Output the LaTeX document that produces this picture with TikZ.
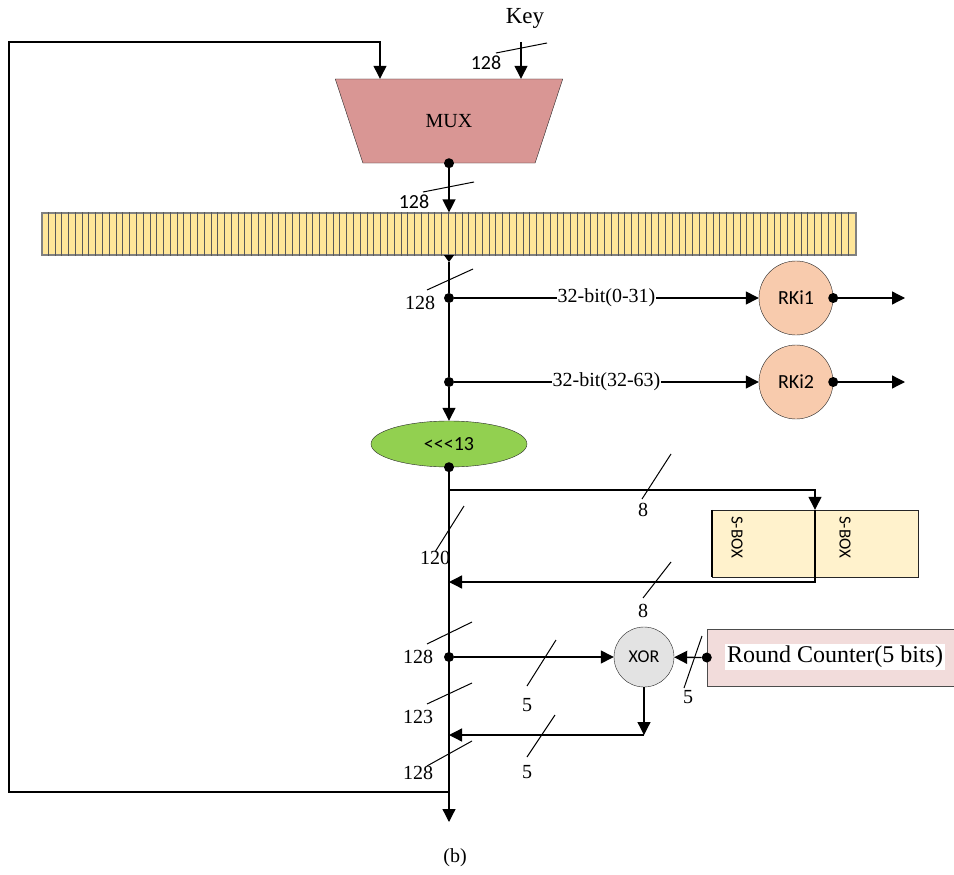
\documentclass[tikz,border=0pt]{standalone}
\usepackage{fontspec}
\setmainfont{Liberation Serif}
\setsansfont{Carlito}
\usetikzlibrary{arrows.meta,positioning,shapes.geometric,calc}
\definecolor{muxred}{HTML}{D99694}
\definecolor{reggold}{HTML}{FFE699}
\definecolor{rkpeach}{HTML}{F8CBAD}
\definecolor{rotgreen}{HTML}{92D050}
\definecolor{sboxcream}{HTML}{FFF2CC}
\definecolor{xorgray}{HTML}{E3E3E3}
\definecolor{rcpink}{HTML}{F2DCDB}
\tikzset{
  wire/.style={line width=1.3pt},
  arr/.style={wire,-{Triangle[length=13pt,width=13pt]}},
  bustick/.style={line width=1pt},
  tapdot/.style={circle,fill=black,minimum size=10pt,inner sep=0pt},
  num/.style={font=\fontsize{20}{22}\selectfont,inner sep=0pt},
  numsf/.style={font=\sffamily\fontsize{20}{22}\selectfont,inner sep=0pt},
  muxbox/.style={trapezium,trapezium stretches=true,shape border rotate=180,
    trapezium angle=66.8,minimum width=229pt,minimum height=84pt,
    fill=muxred,draw=black!85,font=\fontsize{20}{22}\selectfont},
  regbar/.style={rectangle,fill=reggold,draw=black!50,line width=1.2pt,
    minimum width=814pt,minimum height=42pt,inner sep=0pt},
  regcell/.style={black!65,line width=0.8pt},
  rkey/.style={circle,fill=rkpeach,draw=black!85,minimum size=74pt,inner sep=0pt,
    font=\sffamily\fontsize{20}{22}\selectfont},
  rotnode/.style={ellipse,fill=rotgreen,draw=black!85,minimum width=156pt,
    minimum height=46pt,inner sep=0pt,font=\sffamily\fontsize{20}{22}\selectfont},
  sboxrect/.style={rectangle,fill=sboxcream,draw=black!85,minimum width=206pt,
    minimum height=67pt},
  sboxtxt/.style={rotate=-90,font=\sffamily\fontsize{17}{19}\selectfont,inner sep=0pt},
  xorgate/.style={circle,fill=xorgray,draw=black!85,minimum size=60pt,inner sep=0pt,
    font=\sffamily\fontsize{18}{20}\selectfont},
  rcbox/.style={rectangle,fill=rcpink,draw=black!70,minimum width=247pt,minimum height=57pt},
  bitlab/.style={fill=white,inner sep=1pt,font=\fontsize{20}{22}\selectfont},
}

\begin{document}
\begin{tikzpicture}[x=1pt,y=-1pt]
  \useasboundingbox (0,0) rectangle (954,875);
  % blocks
  \node[font=\fontsize{23}{25}\selectfont] (key) at (525,18) {Key};
  \node[muxbox] (mux) at (449,121) {MUX};
  \node[regbar] (reg) at (449,234) {};
  \foreach \i in {1,...,119}
    \draw[regcell] ($(reg.north west)+(\i*6.783,0)$) -- ($(reg.south west)+(\i*6.783,0)$);
  \node[rkey] (rk1) at (796,298) {RKi1};
  \node[rkey] (rk2) at (796,382) {RKi2};
  \node[rotnode] (rot) at (449,444) {<{}<{}<13};
  \node[sboxrect] (sbox) at (815,543.5) {};
  \node[sboxtxt] (sb1) at (737,537) {S-BOX};
  \node[sboxtxt] (sb2) at (845,537) {S-BOX};
  \node[xorgate] (xor) at (644,657) {XOR};
  \node[rcbox] (rc) at (830.5,657.5) {};
  \node[fill=white,inner sep=2pt,font=\fontsize{24}{26}\selectfont] (rctxt) at (835,657) {Round Counter(5 bits)};

  % taps
  \node[tapdot] (muxout) at (mux.south) {};
  \node[tapdot] (tap1) at (449,298) {};
  \node[tapdot] (tap2) at (449,382) {};
  \node[tapdot] (rotout) at (rot.south) {};
  \node[tapdot] (tap3) at (449,657) {};
  \node[tapdot] (rk1o) at (rk1.east) {};
  \node[tapdot] (rk2o) at (rk2.east) {};
  \node[tapdot] (rcout) at (rc.west) {};
  \coordinate (keyin) at (521,42);
  \coordinate (fbcorner) at (9,42);
  \coordinate (fbin) at (380,42);
  \coordinate (regout) at (449,262);
  \coordinate (rk1end) at (905,298);
  \coordinate (rk2end) at (905,382);
  \coordinate (sbsplit) at (449,490);
  \coordinate (sbturn) at (815,582);
  \coordinate (sbin) at (449,582);
  \coordinate (xturn) at (644,735);
  \coordinate (xin) at (449,735);
  \coordinate (fbsplit) at (449,792);
  \coordinate (outend) at (449,822);

  % wires
  \draw[arr] (keyin) -- (keyin |- mux.north);
  \draw[arr] (fbsplit) -| (fbcorner) -- (fbin) -- (fbin |- mux.north);
  \draw[arr] (muxout) -- (muxout |- reg.north);
  \draw[wire,-{Triangle[length=7pt,width=10pt]}] (reg.south) -- (regout);
  \draw[wire] (regout) -- (tap1) -- (tap2);
  \draw[arr] (tap2) -- (rot);
  \draw[arr] (tap1) -- node[bitlab] (bits1) {32-bit(0-31)} (rk1);
  \draw[arr] (tap2) -- node[bitlab] (bits2) {32-bit(32-63)} (rk2);
  \draw[arr] (rk1o) -- (rk1end);
  \draw[arr] (rk2o) -- (rk2end);
  \draw[arr] (rotout) -- (outend);
  \draw[arr] (sbsplit) -| (sbox.north);
  \draw[arr] (sbox.north) -- (sbturn) -- (sbin);
  \draw[line width=2.5pt] (sbox.north west) -- (sbox.south west);
  \draw[arr] (tap3) -- (xor);
  \draw[arr] (rcout) -- (xor);
  \draw[arr] (xor) -- (xturn);
  \draw[arr] (xturn) -- (xin);

  % bus widths
  \draw[bustick] (496,53) -- (547,43);
  \node[numsf] (wkey) at (486,63) {128};
  \draw[bustick] (423,192) -- (474,182);
  \node[numsf] (wmux) at (414,202) {128};
  \draw[bustick] (427,290) -- (473,269);
  \node[num] (wreg) at (420,303) {128};
  \draw[bustick] (642,499) -- (671,454);
  \node[num] (wsb1) at (643,510) {8};
  \draw[bustick] (435,552) -- (464,506);
  \node[num] (wrest) at (435,558) {120};
  \draw[bustick] (643,598) -- (671,562);
  \node[num] (wsb2) at (643,611) {8};
  \draw[bustick] (427,644) -- (472,622);
  \node[num] (wtap) at (418,657) {128};
  \draw[bustick] (527,686) -- (556,640);
  \node[num] (wx1) at (527,705) {5};
  \draw[bustick] (684,688) -- (702,636);
  \node[num] (wrc) at (688,697) {5};
  \draw[bustick] (427,704) -- (472,683);
  \node[num] (wlow) at (418,717) {123};
  \draw[bustick] (527,757) -- (555,715);
  \node[num] (wx2) at (527,772) {5};
  \draw[bustick] (427,766) -- (472,741);
  \node[num] (wout) at (418,773) {128};
  \node[num] (cap) at (455,858) {(b)};
\end{tikzpicture}
\end{document}
